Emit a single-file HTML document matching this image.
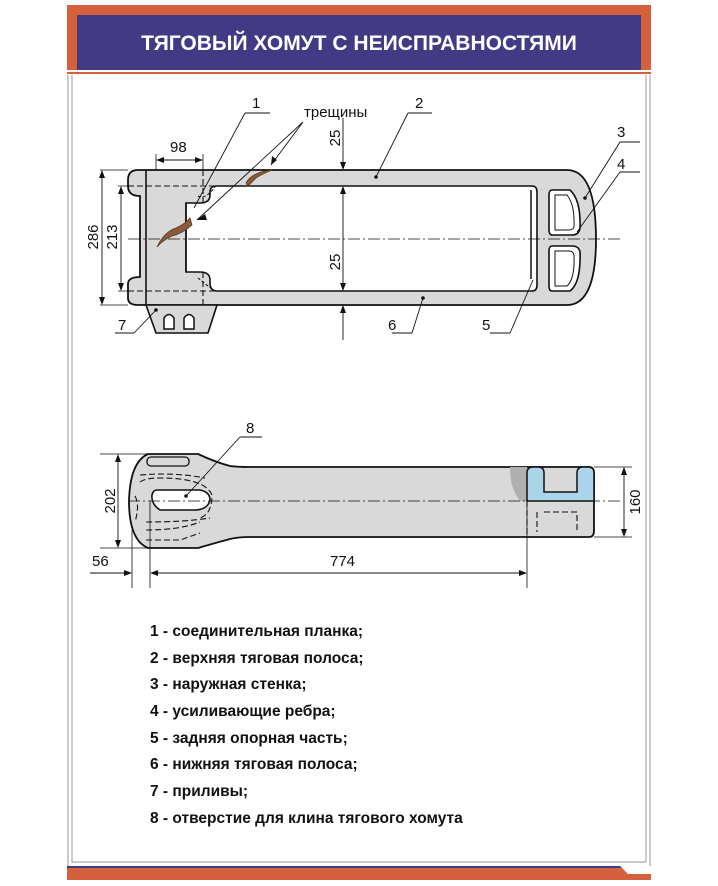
<!DOCTYPE html>
<html><head><meta charset="utf-8"><style>
body{margin:0;background:#fff;}
svg{display:block;font-family:"Liberation Sans",Arial,sans-serif;}
</style></head><body>
<svg width="718" height="886" viewBox="0 0 718 886" xmlns="http://www.w3.org/2000/svg">
<rect x="67" y="5" width="584" height="69" fill="#d4603c"/>
<rect x="77" y="15" width="564" height="55" fill="#433a86"/>
<rect x="67" y="70" width="584" height="2" fill="#fff"/>
<text x="359" y="50" text-anchor="middle" font-size="21" font-weight="bold" fill="#fff">ТЯГОВЫЙ ХОМУТ С НЕИСПРАВНОСТЯМИ</text>
<path d="M68 75V868M72 75V862H646V75M650 75V868" stroke="#aaa" stroke-width="1.2" fill="none"/>
<rect x="67" y="866" width="584" height="3" fill="#433a86"/>
<rect x="67" y="868" width="584" height="12" fill="#d4603c"/>
<polygon points="620,866 651,866 651,874 628,874" fill="#fff"/>

<g stroke="#111" stroke-width="1.1" fill="none">
<!-- top view body -->
<path d="M138 170H567Q596 170 596 239Q596 305 567 305H138Q128 305 128 298V284Q128 277 140 277V196Q128 196 128 186V180Q128 170 138 170Z" fill="#d9d9d9" stroke-width="1.8"/>
<path d="M146 305L217 305L208 333H156Z" fill="#d9d9d9" stroke-width="1.6"/>
<path d="M164 329V318Q169 311 174 318V329ZM184 329V318Q189 311 194 318V329Z" fill="#fff" stroke-width="1.5"/>
<path d="M217 186H532Q537 186 537 192V285Q537 291 532 291H217Q210 291 210 283V280Q210 272 200 272H186V203H200Q210 203 210 195V192Q210 186 217 186Z" fill="#fff" stroke-width="1.6"/>
<path d="M146 170V305" stroke-width="1.6"/>
<path d="M186 203V272" stroke-width="1.5"/>
<path d="M531 190V279" stroke-width="1.5"/>
<path d="M552 190H570Q581 200 580 228Q579 235 572 235H552Q549 235 549 229V195Q549 190 552 190ZM552 246H572Q579 246 580 252Q581 283 570 291H552Q549 291 549 286V251Q549 246 552 246Z" fill="#fff" stroke-width="1.6"/>
<path d="M555 195H567Q575 205 574 227Q573 230 569 230H555ZM555 251H569Q573 251 574 255Q575 279 567 286H555Z" stroke-width="1"/>
<path d="M128 186H218M128 291H218M203 170V203M203 272V305" stroke-dasharray="6,3"/>
<path d="M198 196Q205 200 215 187M198 278Q205 284 215 291" stroke-dasharray="3,2"/>
<path d="M128 239H620" stroke-width="0.8" stroke-dasharray="12,3,2,3"/>
<!-- cracks -->
<path d="M246 183Q252 172 272 170Q262 174 256 178Q252 182 248 186Z" fill="#8b5a3c" stroke="#5a3a20" stroke-width="0.8"/>
<path d="M157 247Q164 232 176 228Q185 224 190 218L192 225Q182 234 172 236Q163 240 157 247Z" fill="#8b5a3c" stroke="#5a3a20" stroke-width="0.8"/>
<!-- dims top -->
<path d="M100 170H128M100 305H128M118 186H128M118 291H128M156 154V170M203 154V170" stroke-width="0.8"/>
<path d="M102 174V301M121 190V287M160 160H199M343 118V166M343 190V287M343 309V340" stroke-width="0.9"/>
<path d="M102 170l-3 8h6zM102 305l-3 -8h6zM121 186l-3 8h6zM121 291l-3 -8h6zM156 160l8 -3v6zM203 160l-8 -3v6zM343 170l-3 -8h6zM343 186l-3 8h6zM343 291l-3 -8h6zM343 305l-3 8h6z" fill="#111" stroke="none"/>
<!-- leaders top -->
<path d="M245 113H270M245 113L194 208M408 113H432M408 113L376 177M620 142H640M620 142L585 198M620 172H640M620 172L577 232M490 333H510M510 333L533 280M392 333H412M412 333L423 298M115 333H134M134 333L156 310" stroke-width="0.9"/>
<path d="M303 122L271 165M303 122L197 220" stroke-width="0.9"/>
<path d="M271 165l1 -9 5 4zM197 220l8 -6 2 6z" fill="#111" stroke="none"/>
<circle cx="376" cy="177" r="1.8" fill="#111" stroke="none"/>
<circle cx="423" cy="298" r="1.8" fill="#111" stroke="none"/>
<circle cx="156" cy="310" r="1.8" fill="#111" stroke="none"/>
<circle cx="585" cy="198" r="1.8" fill="#111" stroke="none"/>
</g>
<g fill="#111" font-size="15">
<text x="252" y="108">1</text>
<text x="304" y="117">трещины</text>
<text x="415" y="108">2</text>
<text x="617" y="137">3</text>
<text x="617" y="169">4</text>
<text x="482" y="330">5</text>
<text x="388" y="330">6</text>
<text x="118" y="330">7</text>
<text x="170" y="152">98</text>
<text transform="translate(98,237) rotate(-90)" text-anchor="middle">286</text>
<text transform="translate(117,237) rotate(-90)" text-anchor="middle">213</text>
<text transform="translate(340,138) rotate(-90)" text-anchor="middle">25</text>
<text transform="translate(340,262) rotate(-90)" text-anchor="middle">25</text>
</g>

<!-- side view -->
<g stroke="#111" stroke-width="1.1" fill="none">
<path d="M148 454H198Q215 462 230 466Q238 467 250 467H589Q594 467 594 473V531Q594 537 589 537H250Q238 537 230 539Q215 543 198 548H148Q129 540 129 501Q130 462 148 454Z" fill="#d9d9d9" stroke-width="1.8"/>
<path d="M510 467H527V501H520Q515 494 513 488Q510 480 510 467Z" fill="#b0b0b0" stroke="none"/>
<path d="M527 501V473Q527 467 533 467H538Q544 467 544 473V492H577V473Q577 467 583 467H588Q594 467 594 473V501Z" fill="#a9d4ea" stroke-width="1.5"/>
<rect x="147" y="457" width="42" height="9" rx="4" stroke-width="1.3"/>
<path d="M157 490H200Q210 492 210 500Q208 509 196 510H160Q151 504 152 495Q153 490 157 490Z" fill="#fff" stroke-width="1.6"/>
<path d="M140 475Q175 472 205 478M140 482Q145 478 160 478Q205 478 212 495Q212 514 200 518M135 496Q140 505 135 522M146 522Q185 522 210 518M146 530Q180 530 200 522M146 540H180L200 533M527 501V537M537 512V532M544 512H577V530" stroke-width="1.1" stroke-dasharray="6,3"/>
<path d="M128 501H620" stroke-width="0.8" stroke-dasharray="12,3,2,3"/>
<path d="M100 454H148M100 548H148M594 467H632M594 537H632M132 530V588M150 501V588M527 501V588" stroke-width="0.8"/>
<path d="M118 458V544M624 471V533M154 573H523M90 573H128" stroke-width="0.9"/>
<path d="M118 454l-3 8h6zM118 548l-3 -8h6zM624 467l-3 8h6zM624 537l-3 -8h6zM150 573l8 -3v6zM527 573l-8 -3v6zM132 573l-8 -3v6z" fill="#111" stroke="none"/>
<path d="M240 437H262M240 437L186 496" stroke-width="0.9"/>
</g>
<circle cx="186" cy="496" r="1.8" fill="#111"/>
<g fill="#111" font-size="15">
<text x="246" y="433">8</text>
<text x="330" y="566">774</text>
<text x="92" y="566">56</text>
<text transform="translate(115,501) rotate(-90)" text-anchor="middle">202</text>
<text transform="translate(640,502) rotate(-90)" text-anchor="middle">160</text>
</g>

<g fill="#111" font-size="15.5" font-weight="bold">
<text x="150" y="636">1 - соединительная планка;</text>
<text x="150" y="663">2 - верхняя тяговая полоса;</text>
<text x="150" y="689">3 - наружная стенка;</text>
<text x="150" y="716">4 - усиливающие ребра;</text>
<text x="150" y="743">5 - задняя опорная часть;</text>
<text x="150" y="769">6 - нижняя тяговая полоса;</text>
<text x="150" y="796">7 - приливы;</text>
<text x="150" y="823">8 - отверстие для клина тягового хомута</text>
</g>
</svg>
</body></html>
